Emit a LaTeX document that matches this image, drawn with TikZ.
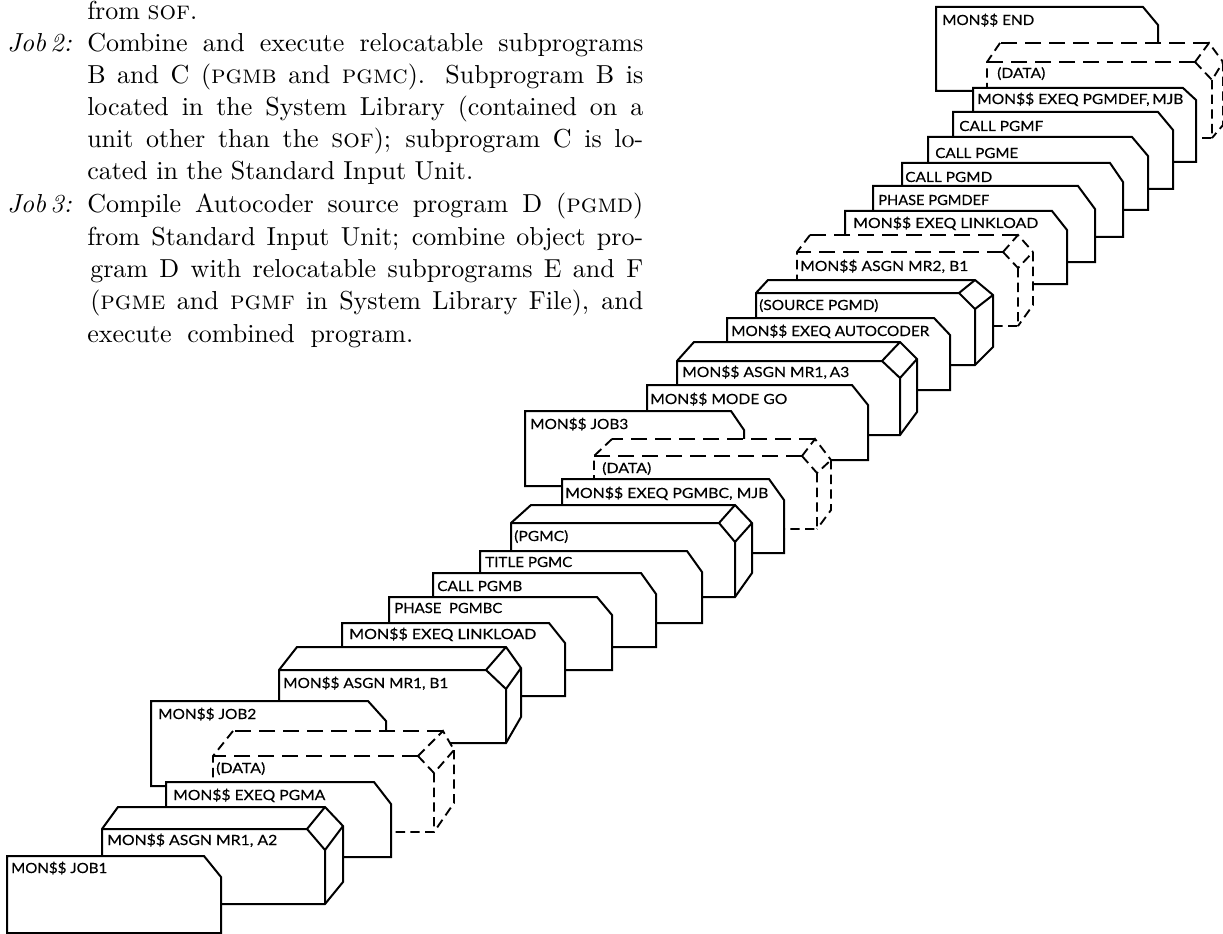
\documentclass[tikz,border=0pt]{standalone}
\usepackage{fontspec}
\usepackage{graphicx}
\newfontfamily\lblfont[FakeBold=0.3]{Lato}
\tikzset{
  x=0.75pt,y=-0.75pt,
  solidline/.style={draw=black,line width=1.5pt,line join=miter,fill=white},
  inkline/.style={draw=black,line width=1.5pt,line join=miter},
  longdash/.style={draw=black,line width=1.4pt,dash pattern=on 12pt off 6pt},
  shortdash/.style={draw=black,line width=1.4pt,dash pattern=on 7pt off 4pt},
  cardlabel/.style={anchor=base west,inner sep=0pt,font=\lblfont\fontsize{10.5pt}{12pt}\selectfont},
  bodytext/.style={anchor=base west,inner sep=0pt,font=\fontsize{10pt}{12pt}\selectfont}
}
% name, x, baseline y, width in px, text
\newcommand{\lbl}[5]{\node[cardlabel] (#1) at (#2,#3) {\resizebox{#4\dimexpr0.75pt\relax}{\height}{#5}};}
% name, x, baseline y, width in px, text (10pt master scaled up)
\newcommand{\bodyline}[5]{\node[bodytext] (#1) at (#2,#3) {\scalebox{1.95}{\makebox[\dimexpr#4\dimexpr0.75pt\relax*100/195\relax][s]{#5}}};}
% left, top, chamfer start x, chamfer end x, chamfer end y, bottom
\newcommand{\card}[6]{\path[solidline] (#1,#6) -- (#1,#2) -- (#3,#2) -- (#4,#5) -- (#4,#6) -- cycle;}
% tape: left, frontY, backleftX, topY, diaL, diaMx, diaR, diaRy, diaBy; then botY, rightBotY
\newcommand{\tape}[9]{\def\zl{#1}\def\zf{#2}\def\zb{#3}\def\zt{#4}\def\zdl{#5}\def\zdm{#6}\def\zdr{#7}\def\zdy{#8}\def\zdb{#9}\tapeb}
\newcommand{\tapeb}[2]{\path[solidline] (\zl,#1) -- (\zl,\zf) -- (\zb,\zt) -- (\zdm,\zt) -- (\zdr,\zdy) -- (\zdr,#2) -- (\zdm,#1) -- cycle;
  \draw[inkline] (\zl,\zf) -- (\zdl,\zf) -- (\zdm,\zdb) -- (\zdr,\zdy) (\zdl,\zf) -- (\zdm,\zt) (\zdm,\zdb) -- (\zdm,#1);}
% dashed data tape: same first nine; then botY, rightBotY, leftBotY, verticalX, bottom line left X
\newcommand{\datatape}[9]{\def\zl{#1}\def\zf{#2}\def\zb{#3}\def\zt{#4}\def\zdl{#5}\def\zdm{#6}\def\zdr{#7}\def\zdy{#8}\def\zdb{#9}\datab}
\newcommand{\datab}[5]{\path[fill=white] (\zl,#1) -- (\zl,\zf) -- (\zb,\zt) -- (\zdm,\zt) -- (\zdr,\zdy) -- (\zdr,#2) -- (#4,#1) -- cycle;
  \draw[longdash] (\zdl,\zf) -- (\zl,\zf) (\zdm,\zt) -- (\zb,\zt);
  \draw[shortdash] (\zb,\zt) -- (\zl,\zf) -- (\zl,#3)
     (\zdl,\zf) -- (\zdm,\zt) -- (\zdr,\zdy) (\zdl,\zf) -- (#4,\zdb) -- (\zdr,\zdy);
  \draw[shortdash] (#4,\zdb) -- (#4,#1) -- (#5,#1) (\zdr,\zdy) -- (\zdr,#2) -- (#4,#1);}
\begin{document}
\begin{tikzpicture}
\useasboundingbox[fill=white] (0,0) rectangle (1223,934);
% body text
\bodyline{t0}{87}{20}{110}{from \textsc{sof}.}
\bodyline{j2}{7}{52}{65}{\textit{Job\,2:}}
\bodyline{t1}{87}{52}{556}{Combine and execute relocatable subprograms}
\bodyline{t2}{87}{84}{556}{B and C (\textsc{pgmb} and \textsc{pgmc}). Subprogram B is}
\bodyline{t3}{87}{116}{556}{located in the System Library (contained on a}
\bodyline{t4}{87}{148}{556}{unit other than the \textsc{sof}); subprogram C is lo-}
\bodyline{t5}{87}{180}{386}{cated in the Standard Input Unit.}
\bodyline{j3}{7}{213}{65}{\textit{Job\,3:}}
\bodyline{t6}{87}{213}{556}{Compile Autocoder source program D (\textsc{pgmd})}
\bodyline{t7}{87}{245}{556}{from Standard Input Unit; combine object pro-}
\bodyline{t8}{90}{277}{553}{gram D with relocatable subprograms E and F}
\bodyline{t9}{90}{309}{553}{(\textsc{pgme} and \textsc{pgmf} in System Library File), and}
\bodyline{t10}{87}{342}{326}{execute combined program.}
% cards and tapes, rear to front
\card{936}{7}{1143}{1158}{25}{91}
\lbl{lEnd}{942}{25}{92}{MON\$\$ END}
\datatape{987}{62}{1000}{43}{1195}{1209}{1223}{62}{80}{138}{125}{87}{1212}{1197}
\lbl{lData3}{997}{78}{48}{(DATA)}
\card{973}{88}{1183}{1196}{100}{162}
\lbl{lDef}{977}{104}{206}{MON\$\$ EXEQ PGMDEF,\,MJB}
\card{953}{112}{1158}{1173}{130}{189}
\lbl{lF}{959}{131}{84}{CALL PGMF}
\card{928}{137}{1132}{1148}{156}{210}
\lbl{lE}{935}{158}{83}{CALL PGME}
\card{902}{163}{1110}{1123}{182}{237}
\lbl{lD}{905}{182}{87}{CALL PGMD}
\card{873}{186}{1078}{1095}{209}{262}
\lbl{lPh}{878}{205}{111}{PHASE PGMDEF}
\card{845}{211}{1052}{1067}{230}{284}
\lbl{lLk}{853}{228}{185}{MON\$\$ EXEQ LINKLOAD}
\datatape{797}{252}{810}{235}{1003}{1018}{1033}{252}{268}{326}{305}{280}{1018}{993}
\lbl{lMr2}{800}{271}{168}{MON\$\$ ASGN MR2, B1}
\tape{756}{293}{768}{280}{959}{975}{993}{295}{309}{365}{347}
\lbl{lSrc}{759}{310}{119}{(SOURCE PGMD)}
\card{727}{318}{934}{950}{335}{390}
\lbl{lAc}{731}{336}{198}{MON\$\$ EXEQ AUTOCODER}
\tape{677}{361}{694}{342}{882}{900}{917}{359}{378}{435}{412}
\lbl{lA3}{682}{377}{167}{MON\$\$ ASGN MR1,\,A3}
\card{647}{385}{852}{868}{405}{460}
\lbl{lGo}{650}{404}{137}{MON\$\$ MODE GO}
\card{525}{411}{731}{744}{430}{486}
\lbl{lJ3}{530}{429}{98}{MON\$\$ JOB3}
\datatape{594}{456}{612}{439}{802}{815}{831}{460}{473}{529}{510}{479}{817}{784}
\lbl{lData2}{602}{473}{49}{(DATA)}
\card{562}{479}{769}{784}{500}{553}
\lbl{lMjb}{565}{498}{203}{MON\$\$ EXEQ PGMBC, MJB}
\tape{511}{523}{531}{505}{719}{735}{752}{523}{542}{597}{573}
\lbl{lC}{514}{541}{54}{(PGMC)}
\card{480}{551}{687}{702}{572}{623}
\lbl{lTi}{485}{567}{87}{TITLE PGMC}
\card{433}{573}{641}{656}{594}{647}
\lbl{lB}{437}{591}{85}{CALL PGMB}
\card{389}{597}{597}{612}{615}{670}
\lbl{lBc}{394}{613}{108}{PHASE\hspace{0.5em}PGMBC}
\card{342}{623}{549}{565}{643}{696}
\lbl{lLk2}{349}{639}{187}{MON\$\$ EXEQ LINKLOAD}
\tape{279}{670}{297}{647}{486}{506}{521}{668}{689}{743}{717}
\lbl{lB1}{283}{688}{165}{MON\$\$ ASGN MR1, B1}
\card{151}{701}{368}{386}{721}{786}
\lbl{lJ2}{158}{719}{98}{MON\$\$ JOB2}
\datatape{213}{756}{233}{731}{418}{443}{454}{750}{773}{832}{803}{782}{434}{391}
\lbl{lData1}{216}{773}{49}{(DATA)}
\card{166}{782}{374}{391}{804}{857}
\lbl{lA}{173}{800}{152}{MON\$\$ EXEQ PGMA}
\tape{102}{829}{118}{807}{307}{325}{343}{826}{850}{904}{882}
\lbl{lA2}{107}{845}{170}{MON\$\$ ASGN MR1, A2}
\card{7}{856}{204}{221}{877}{933}
\lbl{lJ1}{11}{873}{96}{MON\$\$ JOB1}
\end{tikzpicture}
\end{document}
